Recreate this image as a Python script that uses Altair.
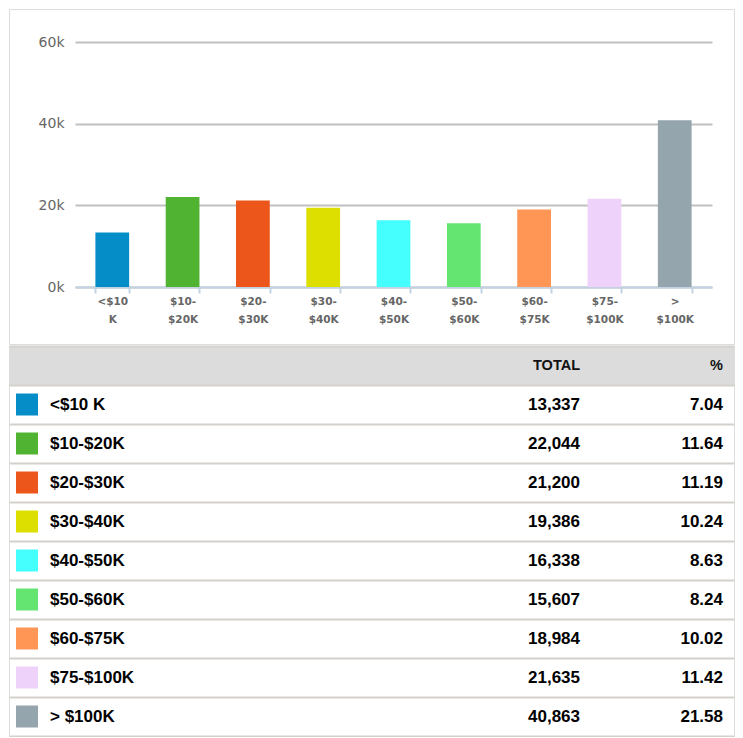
import altair as alt
import pandas as pd

# ---------------- data ----------------
categories = ["<$10 K", "$10-$20K", "$20-$30K", "$30-$40K", "$40-$50K",
              "$50-$60K", "$60-$75K", "$75-$100K", "> $100K"]
axis_labels = ["<$10|K", "$10-|$20K", "$20-|$30K", "$30-|$40K", "$40-|$50K",
               "$50-|$60K", "$60-|$75K", "$75-|$100K", ">|$100K"]
totals = [13337, 22044, 21200, 19386, 16338, 15607, 18984, 21635, 40863]
percents = [7.04, 11.64, 11.19, 10.24, 8.63, 8.24, 10.02, 11.42, 21.58]
colors = ["#058DC7", "#50B432", "#ED561B", "#DDDF00", "#45FFFF",
          "#64E572", "#FF9655", "#EED2F9", "#95A5AD"]
y_ticks = [0, 20000, 40000, 60000]
header_labels = ["TOTAL", "%"]

df = pd.DataFrame({
    "row": categories,
    "axis_label": axis_labels,
    "total": totals,
    "pct": percents,
})

color_scale = alt.Scale(domain=categories, range=colors)

# ---------------- bar chart ----------------
TOP_W, TOP_H = 725, 335

bars = alt.Chart(df).mark_bar().encode(
    x=alt.X(
        "axis_label:N", sort=axis_labels,
        scale=alt.Scale(range=[66, 703], paddingInner=0.52, paddingOuter=0.29),
        axis=alt.Axis(
            title=None, orient="bottom", offset=-57, labelAngle=0,
            labelExpr="split(datum.label, '|')",
            labelFont="DejaVu Sans", labelFontWeight="bold", labelFontSize=10.5,
            labelColor="#666666", labelLineHeight=18, labelBaseline="top",
            labelPadding=3, labelOverlap=False,
            domainColor="#c2d2e2", domainWidth=2,
            tickColor="#c2d2e2", tickWidth=2, tickSize=6, tickBand="extent",
        ),
    ),
    y=alt.Y(
        "total:Q",
        scale=alt.Scale(domain=[0, 60000], range=[278, 33], nice=False),
        axis=alt.Axis(
            title=None, values=y_ticks, offset=-66,
            labelExpr="datum.value / 1000 + 'k'",
            labelFont="DejaVu Sans", labelFontSize=14, labelColor="#666666",
            labelPadding=11, domain=False, ticks=False,
            grid=True, gridColor="#c0c0c0", gridWidth=2,
        ),
    ),
    color=alt.Color("row:N", scale=color_scale, legend=None),
).properties(width=TOP_W, height=TOP_H)

# ---------------- table ----------------
row_keys = [""] + categories
row_scale = alt.Scale(domain=row_keys, paddingInner=0, paddingOuter=0)
row_axis = alt.Axis(title=None, labels=False, ticks=False, domain=False,
                    grid=True, gridColor="#d4d1cd", gridWidth=2, tickBand="extent")

header_df = pd.DataFrame({"row": [""], "t1": [header_labels[0]], "t2": [header_labels[1]]})

ybase = alt.Y("row:N", scale=row_scale, axis=row_axis, sort=row_keys)

header_bg = alt.Chart(header_df).mark_rect(color="#dcdcdc").encode(
    y=ybase, x=alt.value(0), x2=alt.value("width"))

header_total = alt.Chart(header_df).mark_text(
    align="right", baseline="middle", font="Liberation Sans",
    fontWeight="bold", fontSize=14.5, color="#111111").encode(
    y=alt.Y("row:N", scale=row_scale, sort=row_keys), x=alt.value(571), text="t1:N")

header_pct = alt.Chart(header_df).mark_text(
    align="right", baseline="middle", font="Liberation Sans",
    fontWeight="bold", fontSize=14.5, color="#111111").encode(
    y=alt.Y("row:N", scale=row_scale, sort=row_keys), x=alt.value(714), text="t2:N")

swatches = alt.Chart(df).mark_square(size=484, opacity=1).encode(
    y=alt.Y("row:N", scale=row_scale, sort=row_keys), x=alt.value(18),
    color=alt.Color("row:N", scale=color_scale, legend=None))

text_style = dict(baseline="middle", font="Liberation Sans", fontWeight="bold",
                  fontSize=17, color="#000000")

labels = alt.Chart(df).mark_text(align="left", **text_style).encode(
    y=alt.Y("row:N", scale=row_scale, sort=row_keys), x=alt.value(41), text="row:N")

total_txt = alt.Chart(df).mark_text(align="right", **text_style).encode(
    y=alt.Y("row:N", scale=row_scale, sort=row_keys), x=alt.value(571),
    text=alt.Text("total:Q", format=","))

pct_txt = alt.Chart(df).mark_text(align="right", **text_style).encode(
    y=alt.Y("row:N", scale=row_scale, sort=row_keys), x=alt.value(714),
    text=alt.Text("pct:Q", format=".2f"))

table = alt.layer(header_bg, header_total, header_pct, swatches, labels,
                  total_txt, pct_txt).properties(width=TOP_W, height=390)

chart = alt.vconcat(bars, table, spacing=0).properties(
    padding={"left": 0, "top": 0, "right": 0, "bottom": 0}
).configure_view(stroke="#cccccc", strokeWidth=2).configure(background="white")

chart.save("out.html", embed_options={"renderer": "svg", "actions": False})
